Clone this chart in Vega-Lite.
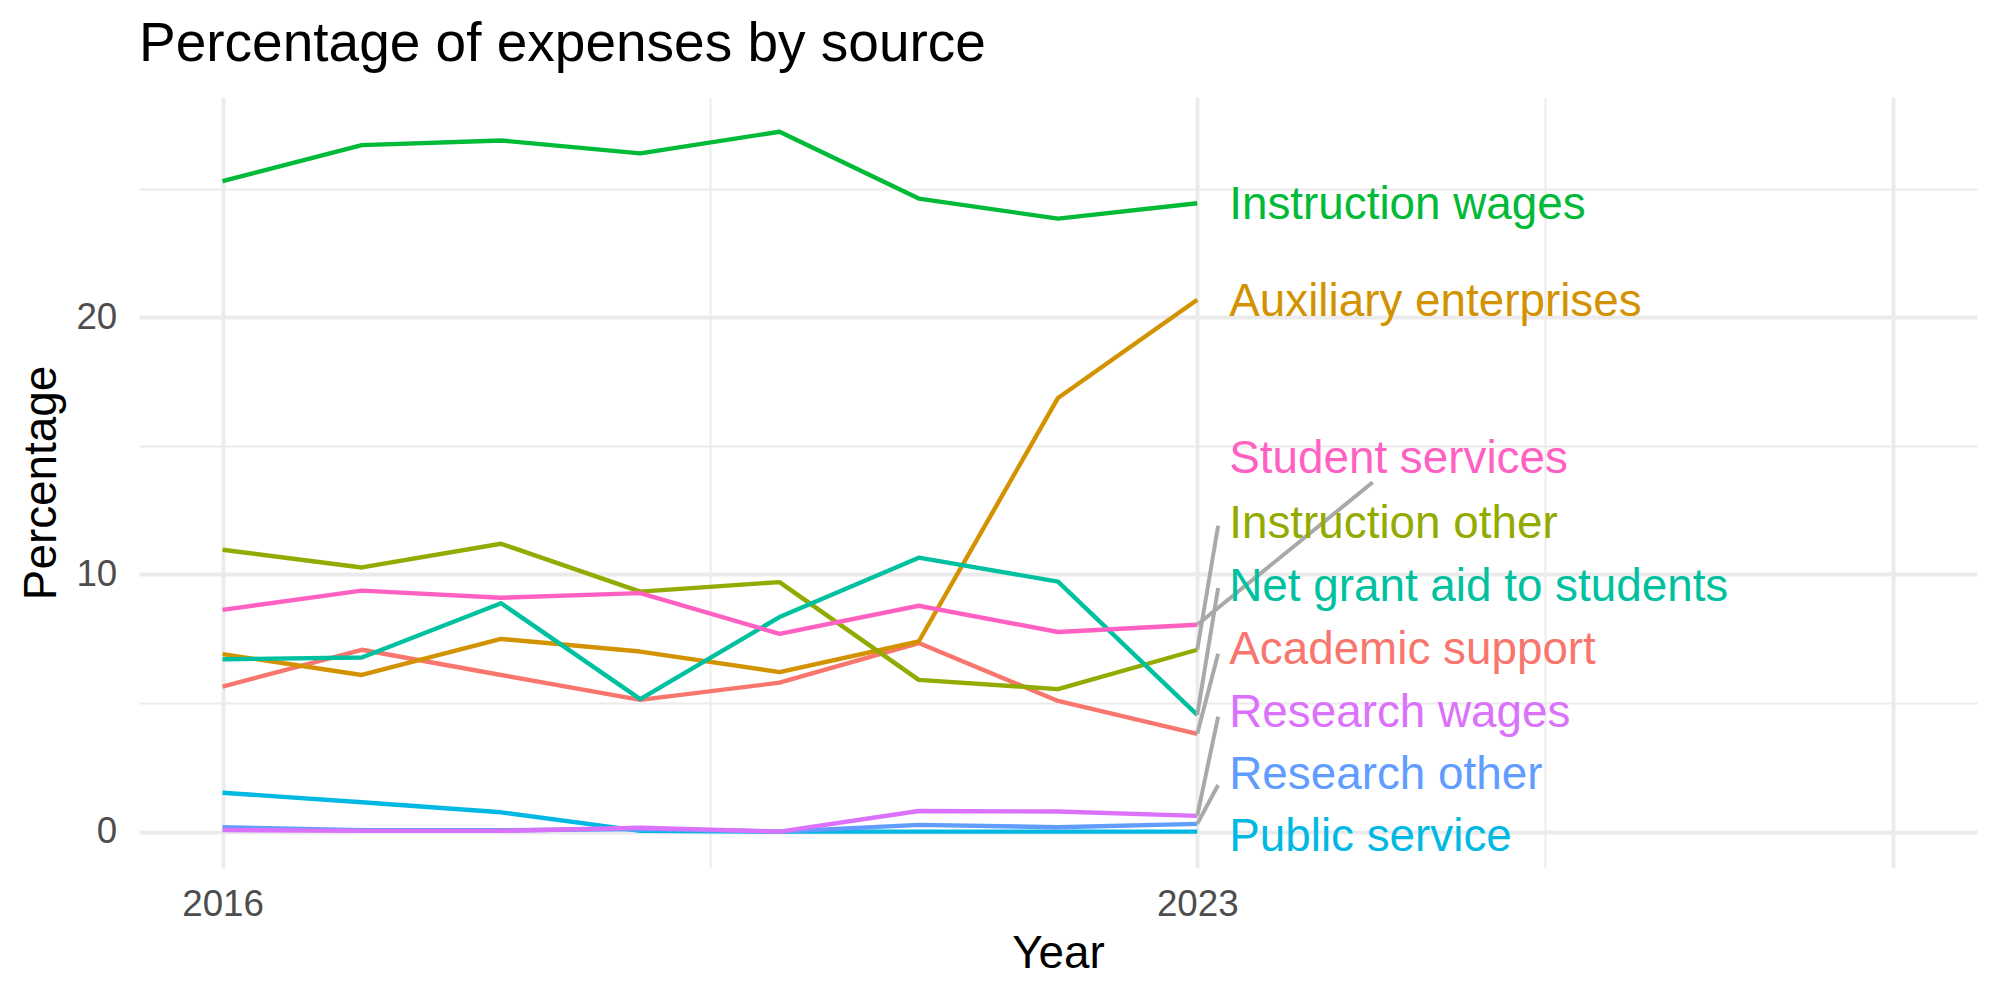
{
  "$schema": "https://vega.github.io/schema/vega-lite/v6.json",
  "width": 1838,
  "height": 771,
  "autosize": {"type": "none"},
  "padding": {"left": 139, "top": 97, "right": 23, "bottom": 132},
  "background": "white",
  "title": {
    "text": "Percentage of expenses by source",
    "anchor": "start",
    "frame": "group",
    "baseline": "alphabetic",
    "offset": 34,
    "dy": 53,
    "font": "Liberation Sans",
    "fontSize": 55,
    "fontWeight": "normal",
    "color": "#000000"
  },
  "datasets": {
    "series": [
      {"source": "Academic support", "year": 2016, "pct": 5.64},
      {"source": "Academic support", "year": 2017, "pct": 7.07},
      {"source": "Academic support", "year": 2018, "pct": 6.09},
      {"source": "Academic support", "year": 2019, "pct": 5.12},
      {"source": "Academic support", "year": 2020, "pct": 5.79},
      {"source": "Academic support", "year": 2021, "pct": 7.33},
      {"source": "Academic support", "year": 2022, "pct": 5.08},
      {"source": "Academic support", "year": 2023, "pct": 3.8},
      {"source": "Auxiliary enterprises", "year": 2016, "pct": 6.9},
      {"source": "Auxiliary enterprises", "year": 2017, "pct": 6.09},
      {"source": "Auxiliary enterprises", "year": 2018, "pct": 7.49},
      {"source": "Auxiliary enterprises", "year": 2019, "pct": 7.0},
      {"source": "Auxiliary enterprises", "year": 2020, "pct": 6.2},
      {"source": "Auxiliary enterprises", "year": 2021, "pct": 7.39},
      {"source": "Auxiliary enterprises", "year": 2022, "pct": 16.86},
      {"source": "Auxiliary enterprises", "year": 2023, "pct": 20.68},
      {"source": "Instruction other", "year": 2016, "pct": 10.96},
      {"source": "Instruction other", "year": 2017, "pct": 10.27},
      {"source": "Instruction other", "year": 2018, "pct": 11.19},
      {"source": "Instruction other", "year": 2019, "pct": 9.33},
      {"source": "Instruction other", "year": 2020, "pct": 9.7},
      {"source": "Instruction other", "year": 2021, "pct": 5.9},
      {"source": "Instruction other", "year": 2022, "pct": 5.54},
      {"source": "Instruction other", "year": 2023, "pct": 7.07},
      {"source": "Instruction wages", "year": 2016, "pct": 25.29},
      {"source": "Instruction wages", "year": 2017, "pct": 26.69},
      {"source": "Instruction wages", "year": 2018, "pct": 26.87},
      {"source": "Instruction wages", "year": 2019, "pct": 26.37},
      {"source": "Instruction wages", "year": 2020, "pct": 27.21},
      {"source": "Instruction wages", "year": 2021, "pct": 24.61},
      {"source": "Instruction wages", "year": 2022, "pct": 23.83},
      {"source": "Instruction wages", "year": 2023, "pct": 24.43},
      {"source": "Net grant aid to students", "year": 2016, "pct": 6.7},
      {"source": "Net grant aid to students", "year": 2017, "pct": 6.77},
      {"source": "Net grant aid to students", "year": 2018, "pct": 8.88},
      {"source": "Net grant aid to students", "year": 2019, "pct": 5.15},
      {"source": "Net grant aid to students", "year": 2020, "pct": 8.34},
      {"source": "Net grant aid to students", "year": 2021, "pct": 10.65},
      {"source": "Net grant aid to students", "year": 2022, "pct": 9.72},
      {"source": "Net grant aid to students", "year": 2023, "pct": 4.54},
      {"source": "Public service", "year": 2016, "pct": 1.51},
      {"source": "Public service", "year": 2017, "pct": 1.14},
      {"source": "Public service", "year": 2018, "pct": 0.75},
      {"source": "Public service", "year": 2019, "pct": 0.03},
      {"source": "Public service", "year": 2020, "pct": 0.0},
      {"source": "Public service", "year": 2021, "pct": 0.0},
      {"source": "Public service", "year": 2022, "pct": 0.0},
      {"source": "Public service", "year": 2023, "pct": 0.0},
      {"source": "Research other", "year": 2016, "pct": 0.17},
      {"source": "Research other", "year": 2017, "pct": 0.05},
      {"source": "Research other", "year": 2018, "pct": 0.05},
      {"source": "Research other", "year": 2019, "pct": 0.1},
      {"source": "Research other", "year": 2020, "pct": 0.0},
      {"source": "Research other", "year": 2021, "pct": 0.26},
      {"source": "Research other", "year": 2022, "pct": 0.17},
      {"source": "Research other", "year": 2023, "pct": 0.3},
      {"source": "Research wages", "year": 2016, "pct": 0.06},
      {"source": "Research wages", "year": 2017, "pct": 0.03},
      {"source": "Research wages", "year": 2018, "pct": 0.03},
      {"source": "Research wages", "year": 2019, "pct": 0.15},
      {"source": "Research wages", "year": 2020, "pct": 0.0},
      {"source": "Research wages", "year": 2021, "pct": 0.8},
      {"source": "Research wages", "year": 2022, "pct": 0.78},
      {"source": "Research wages", "year": 2023, "pct": 0.61},
      {"source": "Student services", "year": 2016, "pct": 8.62},
      {"source": "Student services", "year": 2017, "pct": 9.37},
      {"source": "Student services", "year": 2018, "pct": 9.09},
      {"source": "Student services", "year": 2019, "pct": 9.27},
      {"source": "Student services", "year": 2020, "pct": 7.69},
      {"source": "Student services", "year": 2021, "pct": 8.78},
      {"source": "Student services", "year": 2022, "pct": 7.76},
      {"source": "Student services", "year": 2023, "pct": 8.04}
    ],
    "leaders": [
      {"source": "Student services", "year": 2023, "pct": 8.04, "year_end": 2024.26, "pct_end": 13.58},
      {"source": "Instruction other", "year": 2023, "pct": 7.07, "year_end": 2023.15, "pct_end": 11.89},
      {"source": "Net grant aid to students", "year": 2023, "pct": 4.54, "year_end": 2023.15, "pct_end": 9.47},
      {"source": "Academic support", "year": 2023, "pct": 3.8, "year_end": 2023.15, "pct_end": 6.91},
      {"source": "Research wages", "year": 2023, "pct": 0.61, "year_end": 2023.15, "pct_end": 4.47},
      {"source": "Research other", "year": 2023, "pct": 0.3, "year_end": 2023.15, "pct_end": 1.81}
    ],
    "tags": [
      {"source": "Instruction wages", "year": 2023.23, "pct": 23.8},
      {"source": "Auxiliary enterprises", "year": 2023.23, "pct": 20.06},
      {"source": "Student services", "year": 2023.23, "pct": 13.94},
      {"source": "Instruction other", "year": 2023.23, "pct": 11.41},
      {"source": "Net grant aid to students", "year": 2023.23, "pct": 8.97},
      {"source": "Academic support", "year": 2023.23, "pct": 6.51},
      {"source": "Research wages", "year": 2023.23, "pct": 4.06},
      {"source": "Research other", "year": 2023.23, "pct": 1.65},
      {"source": "Public service", "year": 2023.23, "pct": -0.77}
    ]
  },
  "encoding": {
    "x": {
      "field": "year",
      "type": "quantitative",
      "scale": {"domain": [2015.4, 2028.6], "nice": false, "zero": false},
      "axis": {
        "title": "Year",
        "values": [2016, 2019.5, 2023, 2025.5, 2028],
        "format": "d",
        "labelExpr": "datum.value == 2016 || datum.value == 2023 ? datum.label : ''",
        "grid": true,
        "gridColor": "#EBEBEB",
        "gridWidth": {"condition": {"test": "datum.value == 2016 || datum.value == 2023 || datum.value == 2028", "value": 3.8}, "value": 1.9},
        "domain": false,
        "ticks": false,
        "tickSize": 0,
        "labelPadding": 47,
        "labelBaseline": "alphabetic",
        "labelFont": "Liberation Sans",
        "labelFontSize": 36.7,
        "labelColor": "#4D4D4D",
        "labelOverlap": false,
        "labelFlush": false,
        "titleFont": "Liberation Sans",
        "titleFontSize": 45.8,
        "titleFontWeight": "normal",
        "titleColor": "#000000",
        "titleBaseline": "alphabetic",
        "titleAlign": "center",
        "titleX": 919,
        "titleY": 99
      }
    },
    "y": {
      "field": "pct",
      "type": "quantitative",
      "scale": {"domain": [-1.415, 28.56], "nice": false, "zero": false},
      "axis": {
        "title": "Percentage",
        "values": [0, 5, 10, 15, 20, 25],
        "labelExpr": "datum.value % 10 == 0 ? datum.label : ''",
        "grid": true,
        "gridColor": "#EBEBEB",
        "gridWidth": {"condition": {"test": "datum.value % 10 == 0", "value": 3.8}, "value": 1.9},
        "domain": false,
        "ticks": false,
        "tickSize": 0,
        "labelPadding": 22.3,
        "labelAlign": "right",
        "labelBaseline": "middle",
        "labelFont": "Liberation Sans",
        "labelFontSize": 36.7,
        "labelColor": "#4D4D4D",
        "labelOverlap": false,
        "labelFlush": false,
        "titleFont": "Liberation Sans",
        "titleFontSize": 45.8,
        "titleFontWeight": "normal",
        "titleColor": "#000000",
        "titleAngle": 270,
        "titleBaseline": "alphabetic",
        "titleAlign": "center",
        "titleX": -84,
        "titleY": 385.5
      }
    }
  },
  "layer": [
    {
      "data": {"name": "series"},
      "mark": {"type": "line", "strokeWidth": 4.4, "strokeJoin": "round", "strokeCap": "butt"},
      "encoding": {
        "color": {
          "field": "source",
          "type": "nominal",
          "legend": null,
          "scale": {
            "domain": ["Academic support", "Auxiliary enterprises", "Instruction other", "Instruction wages", "Net grant aid to students", "Public service", "Research other", "Research wages", "Student services"],
            "range": ["#F8766D", "#D39200", "#93AA00", "#00BA38", "#00C19F", "#00B9E3", "#619CFF", "#DB72FB", "#FF61C3"]
          }
        }
      }
    },
    {
      "data": {"name": "leaders"},
      "mark": {"type": "rule", "color": "#A9A9A9", "strokeWidth": 4, "strokeCap": "butt"},
      "encoding": {
        "x2": {"field": "year_end"},
        "y2": {"field": "pct_end"}
      }
    },
    {
      "data": {"name": "tags"},
      "mark": {"type": "text", "align": "left", "baseline": "alphabetic", "font": "Liberation Sans", "fontSize": 45.8},
      "encoding": {
        "text": {"field": "source", "type": "nominal"},
        "color": {"field": "source", "type": "nominal", "legend": null}
      }
    }
  ],
  "config": {
    "view": {"stroke": null},
    "axis": {"labelFont": "Liberation Sans", "titleFont": "Liberation Sans"}
  }
}
